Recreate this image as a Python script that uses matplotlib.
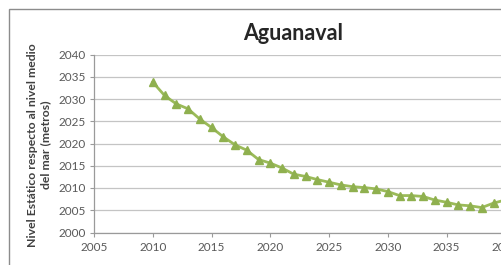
import matplotlib
matplotlib.use("Agg")
import matplotlib.pyplot as plt
from matplotlib.patches import Rectangle

years = list(range(2010, 2041))
nivel = [2033.8, 2030.8, 2028.9, 2027.8, 2025.5, 2023.6, 2021.5, 2019.7, 2018.5, 2016.4,
         2015.6, 2014.5, 2013.1, 2012.6, 2011.9, 2011.3, 2010.7, 2010.3, 2010.1, 2009.8,
         2009.2, 2008.3, 2008.3, 2008.1, 2007.3, 2006.8, 2006.2, 2006.0, 2005.6, 2006.6,
         2007.3]
yticks = list(range(2000, 2041, 5))
xticks = list(range(2005, 2046, 5))
title = "Aguanaval"
ylabel = "Nivel Estático respecto al nivel medio\ndel mar (metros)"

plt.rcParams['font.family'] = ['Lato', 'DejaVu Sans']

W, H = 501, 265
fig = plt.figure(figsize=(W / 100, H / 100), dpi=100)
fig.patch.set_facecolor('white')

# chart border (cropped at right/bottom)
fig.add_artist(Rectangle((9 / W, -0.1), 1.2, (H - 9) / H + 0.1, transform=fig.transFigure,
                         fill=False, edgecolor='#8c8c8c', linewidth=1.0))

ax = fig.add_axes([94 / W, (H - 232.5) / H, 470 / W, 178 / H])
ax.set_xlim(2005, 2045)
ax.set_ylim(2000, 2040)
ax.set_xticks(xticks)
ax.set_yticks(yticks)
ax.grid(axis='y', color='#c4c4c4', linewidth=0.9)
ax.set_axisbelow(True)
for s in ['top', 'right']:
    ax.spines[s].set_visible(False)
for s in ['left', 'bottom']:
    ax.spines[s].set_color('#9a9a9a')
    ax.spines[s].set_linewidth(0.9)
ax.tick_params(axis='both', colors='#9a9a9a', labelcolor='#595959', labelsize=8.5,
               length=3, width=0.8)
ax.tick_params(axis='y', pad=3)
ax.tick_params(axis='x', pad=4)

ax.plot(years, nivel, color='#9bbb59', linewidth=2.0, marker='^', markersize=5.5,
        markerfacecolor='#8fb04f', markeredgecolor='#8fb04f', clip_on=False)

fig.text(293 / W, 1 - 34 / H, title, ha='center', va='center', fontsize=15.5,
         fontweight='bold', color='#262626')
fig.text(39 / W, (H - 145) / H, ylabel, rotation=90, ha='center', va='center',
         fontsize=8.8, fontweight='bold', color='#404040', linespacing=1.25)

fig.savefig('out.png', dpi=100)
